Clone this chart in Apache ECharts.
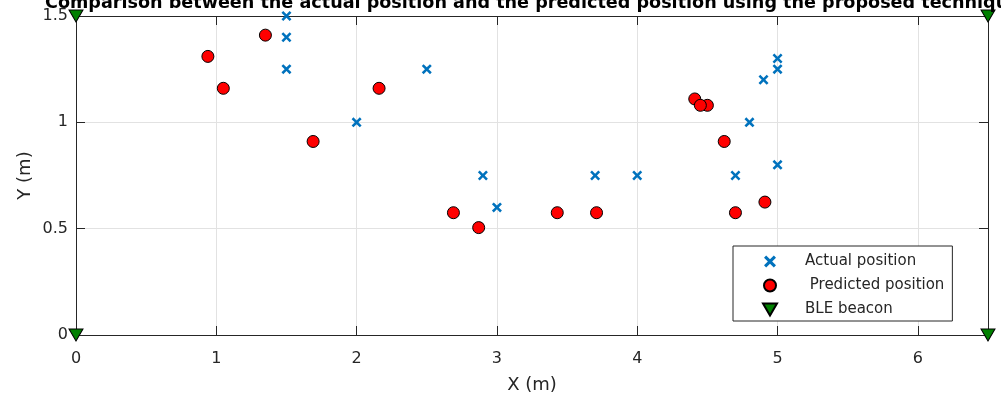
<!DOCTYPE html>
<html><head><meta charset="utf-8">
<script src="https://cdn.jsdelivr.net/npm/echarts@6/dist/echarts.min.js"></script>
<style>html,body{margin:0;padding:0;background:#fff}#c{width:1001px;height:394px}</style>
</head><body><div id="c"></div>
<script>
const titleText = 'Comparison between the actual position and the predicted position using the proposed technique';
const xTicks = [0, 1, 2, 3, 4, 5, 6];
const yTicks = [0, 0.5, 1, 1.5];
const seriesNames = ['Actual position', ' Predicted position', 'BLE beacon'];
const actualX = [1.5, 1.5, 1.5, 2, 2.5, 2.9, 3, 3.7, 4, 4.7, 4.8, 4.9, 5, 5, 5];
const actualY = [1.5, 1.4, 1.25, 1.0, 1.25, 0.75, 0.6, 0.75, 0.75, 0.75, 1.0, 1.2, 1.25, 1.3, 0.8];
const predX = [0.94, 1.05, 1.35, 1.69, 2.16, 2.69, 2.87, 3.43, 3.71, 4.50, 4.41, 4.45, 4.62, 4.70, 4.91];
const predY = [1.31, 1.16, 1.41, 0.91, 1.16, 0.575, 0.505, 0.575, 0.575, 1.08, 1.11, 1.08, 0.91, 0.575, 0.625];
const beaconX = [0, 0, 6.5, 6.5];
const beaconY = [0, 1.5, 1.5, 0];

const FONT = 'DejaVu Sans';
const AX = '#262626';
const zip = (a, b) => a.map((v, i) => [v, b[i]]);
const xSym = 'path://M0,1.8L1.8,0L5,3.2L8.2,0L10,1.8L6.8,5L10,8.2L8.2,10L5,6.8L1.8,10L0,8.2L3.2,5Z';
const triSym = 'path://M0,0L14,0L7,12Z';

function makeX(pos, main) {
  return {
    type: 'value', position: pos, min: 0, max: 6.5, interval: 1,
    axisLine: { show: true, onZero: false, lineStyle: { color: AX, width: 1 } },
    axisTick: { show: true, inside: true, length: 9, lineStyle: { color: AX } },
    axisLabel: main ? { show: true, margin: 16, fontSize: 16, color: AX, fontFamily: FONT,
      formatter: v => (xTicks.indexOf(v) >= 0 ? String(v) : '') } : { show: false },
    splitLine: { show: main, lineStyle: { color: '#e2e2e2', width: 1 } },
    name: main ? 'X (m)' : '', nameLocation: 'middle', nameGap: 41,
    nameTextStyle: { fontSize: 18, color: AX, fontFamily: FONT }
  };
}
function makeY(pos, main) {
  return {
    type: 'value', position: pos, min: 0, max: 1.5, interval: 0.5,
    axisLine: { show: true, onZero: false, lineStyle: { color: AX, width: 1 } },
    axisTick: { show: true, inside: true, length: 9, lineStyle: { color: AX } },
    axisLabel: main ? { show: true, margin: 8, fontSize: 16, color: AX, fontFamily: FONT,
      formatter: v => (yTicks.indexOf(v) >= 0 ? String(v) : '') } : { show: false },
    splitLine: { show: main, lineStyle: { color: '#e2e2e2', width: 1 } },
    name: main ? 'Y (m)' : '', nameLocation: 'middle', nameGap: 42, nameRotate: 90,
    nameMoveOverlap: false,
    nameTextStyle: { fontSize: 18, color: AX, fontFamily: FONT }
  };
}

const chart = echarts.init(document.getElementById('c'), null, { renderer: 'canvas' });
chart.setOption({
  animation: false,
  backgroundColor: '#fff',
  title: {
    text: titleText, left: 40, top: -11,
    textStyle: { fontSize: 17.6, fontWeight: 'bold', color: '#000', fontFamily: FONT }
  },
  grid: { left: 76, right: 13, top: 16, bottom: 59, containLabel: false, outerBoundsMode: 'none' },
  xAxis: [makeX('bottom', true), makeX('top', false)],
  yAxis: [makeY('left', true), makeY('right', false)],
  legend: {
    orient: 'vertical', left: 733, top: 246,
    itemWidth: 60, itemHeight: 12, itemGap: 9,
    padding: [8, 8, 4, 29],
    borderColor: AX, borderWidth: 1, backgroundColor: '#fff',
    textStyle: { fontSize: 15, color: AX, fontFamily: FONT },
    data: seriesNames
  },
  series: [
    { name: seriesNames[0], type: 'scatter', clip: false, symbol: xSym, symbolSize: 10,
      itemStyle: { color: '#0072BD', opacity: 1 }, data: zip(actualX, actualY), z: 3 },
    { name: seriesNames[1], type: 'scatter', clip: false, symbol: 'circle', symbolSize: 12,
      itemStyle: { color: '#ff0000', borderColor: '#000', borderWidth: 1, opacity: 1 }, data: zip(predX, predY), z: 4 },
    { name: seriesNames[2], type: 'scatter', clip: false, symbol: triSym, symbolSize: [14, 12],
      itemStyle: { color: '#008000', borderColor: '#000', borderWidth: 1, opacity: 1 }, data: zip(beaconX, beaconY), z: 5 }
  ]
});
</script></body></html>
